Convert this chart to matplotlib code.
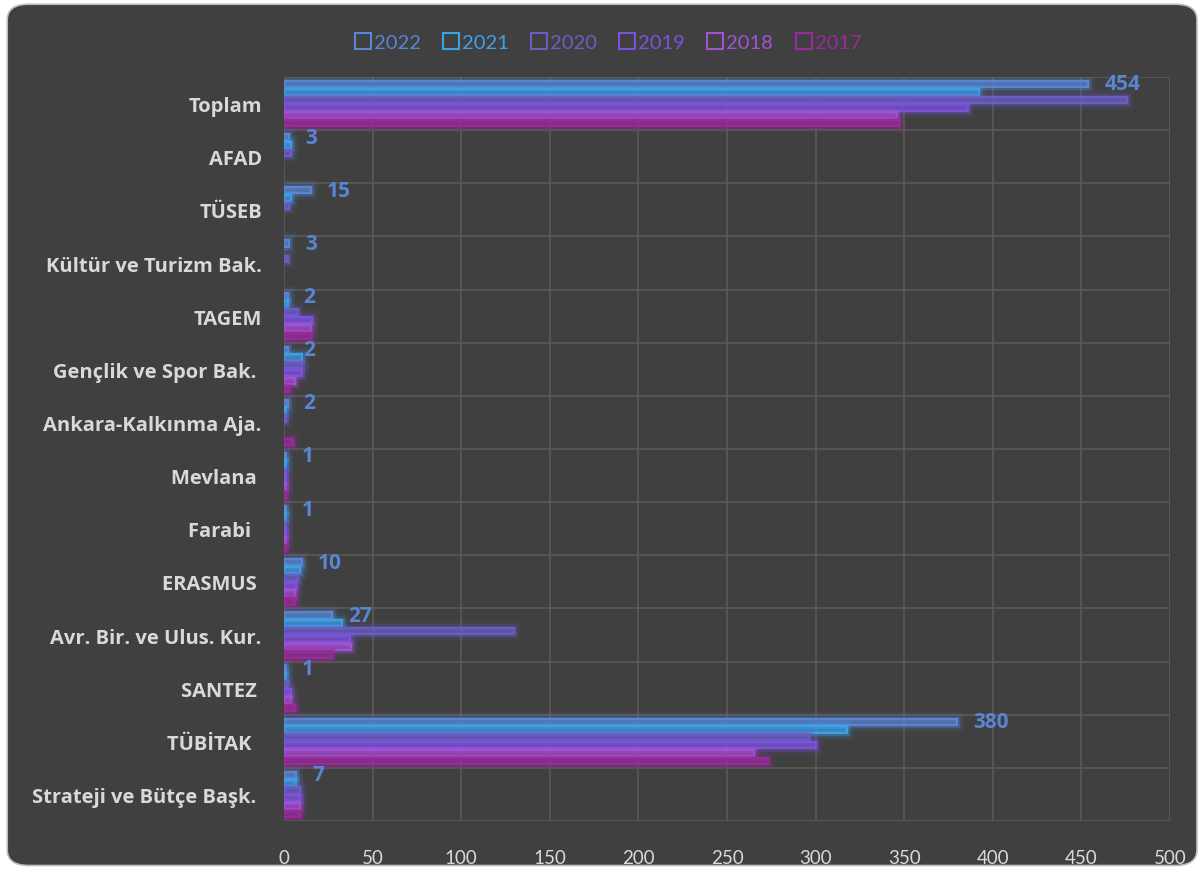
import matplotlib
matplotlib.use("Agg")
import matplotlib.pyplot as plt
import matplotlib.patheffects as pe
from matplotlib.patches import FancyBboxPatch, Patch
import numpy as np

categories = ["Toplam", "AFAD", "TÜSEB", "Kültür ve Turizm Bak.", "TAGEM",
              "Gençlik ve Spor Bak. ", "Ankara-Kalkınma Aja.", "Mevlana ", "Farabi  ",
              "ERASMUS ", "Avr. Bir. ve Ulus. Kur.", "SANTEZ ", "TÜBİTAK  ",
              "Strateji ve Bütçe Başk. "]
years = ["2022", "2021", "2020", "2019", "2018", "2017"]
v2022 = [454, 3, 15, 3, 2, 2, 2, 1, 1, 10, 27, 1, 380, 7]
v2021 = [392, 4, 4, 0, 2, 10, 1, 1, 1, 9, 33, 1, 318, 7]
v2020 = [476, 4, 3, 2, 8, 10, 1, 1, 1, 8, 130, 2, 296, 9]
v2019 = [386, 0, 0, 0, 16, 10, 0, 1, 1, 7, 37, 4, 300, 9]
v2018 = [346, 0, 0, 0, 15, 6, 0, 1, 1, 6, 38, 4, 265, 9]
v2017 = [347, 0, 0, 0, 15, 3, 5, 1, 1, 6, 27, 6, 273, 9]
series = [v2022, v2021, v2020, v2019, v2018, v2017]
colors = ["#5A84D4", "#3CA2E8", "#6A5EC4", "#7A52DC", "#A452D4", "#9A2A9C"]
xticks = [0, 50, 100, 150, 200, 250, 300, 350, 400, 450, 500]

plt.rcParams['font.family'] = ['Lato', 'DejaVu Sans']
BOLD = ['Open Sans', 'DejaVu Sans']

fig = plt.figure(figsize=(12.03, 8.70), dpi=100, facecolor="white")
bg = FancyBboxPatch((0.006, 0.004), 0.989, 0.99, boxstyle="round,pad=0,rounding_size=0.018",
                    transform=fig.transFigure, facecolor="#404040", edgecolor="#BFBFBF",
                    linewidth=1.2, zorder=-5)
fig.patches.append(bg)

ax = fig.add_axes([284/1203, 1-822/870, (1170-284)/1203, (822-78)/870])
ax.set_facecolor("none")

n = len(categories)
ypos = np.arange(n)
slot = 0.1476
h = 0.118
for i, (vals, col) in enumerate(zip(series, colors)):
    offs = (i - 2.5) * slot
    bars = ax.barh(ypos + offs, vals, height=h, facecolor=col + "4D", edgecolor=col,
                   linewidth=1.5, zorder=3)
    for b, v in zip(bars, vals):
        if v == 0:
            b.set_visible(False)
        b.set_path_effects([pe.Stroke(linewidth=10, foreground=col, alpha=0.08),
                            pe.Stroke(linewidth=6, foreground=col, alpha=0.15),
                            pe.Stroke(linewidth=3.5, foreground=col, alpha=0.3),
                            pe.Normal()])

for y, v in zip(ypos, v2022):
    ax.annotate(str(v), (v, y - 2.5 * slot), xytext=(11.5, 0), textcoords="offset points",
                ha="left", va="center", color=colors[0], fontsize=15, fontweight="bold",
                family=BOLD, zorder=5)

ax.set_ylim(n - 0.5, -0.5)
ax.set_xlim(0, 500)
ax.set_xticks(xticks)
ax.set_xticklabels([str(t) for t in xticks])
ax.set_yticks(ypos)
ax.set_yticklabels(categories)
ax.set_yticks(np.arange(n + 1) - 0.5, minor=True)
ax.grid(axis="x", which="major", color="#5A5A5A", linewidth=1.2, zorder=0)
ax.grid(axis="y", which="minor", color="#5A5A5A", linewidth=1.2, zorder=0)
ax.grid(axis="y", which="major", visible=False)
for s in ax.spines.values():
    s.set_visible(False)
ax.tick_params(axis="both", which="both", length=0)
ax.tick_params(axis="x", colors="#D9D9D9", labelsize=13.5, pad=20)
ax.tick_params(axis="y", colors="#D9D9D9", pad=16)
for lab in ax.get_yticklabels():
    lab.set_fontweight("bold")
    lab.set_family(BOLD)
    lab.set_fontsize(14.5)

handles = [Patch(facecolor="none", edgecolor=c, linewidth=1.5, label=y) for y, c in zip(years, colors)]
leg = fig.legend(handles=handles, loc="center", bbox_to_anchor=(608/1203, 1-43/870), ncol=6,
                 frameon=False, fontsize=14.5, handlelength=0.8, handleheight=0.8,
                 handletextpad=0.15, columnspacing=1.1)
for t, c in zip(leg.get_texts(), colors):
    t.set_color(c)

fig.savefig("out.png", dpi=100, facecolor="white")
